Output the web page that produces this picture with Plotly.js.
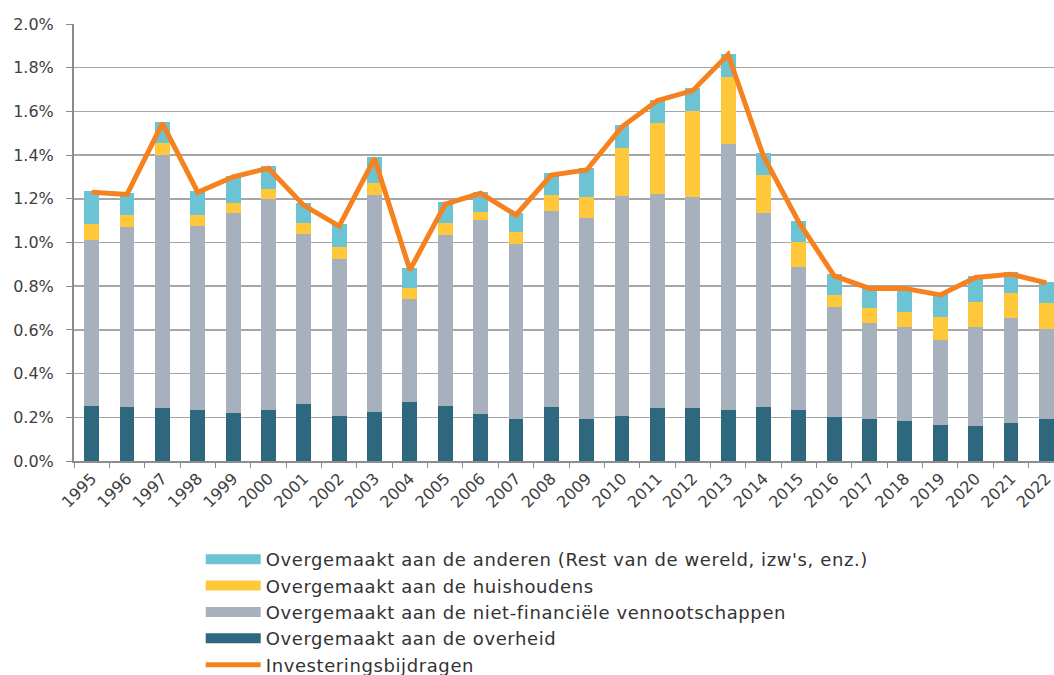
<!DOCTYPE html>
<html><head><meta charset="utf-8">
<script src="https://cdn.plot.ly/plotly-3.0.1.min.js"></script>
<style>html,body{margin:0;padding:0;overflow:hidden;background:#fff}
.legendtext{letter-spacing:0.6px}</style>
</head><body><div id="chart"></div>
<script>
const years = ['1995','1996','1997','1998','1999','2000','2001','2002','2003','2004','2005','2006','2007','2008','2009','2010','2011','2012','2013','2014','2015','2016','2017','2018','2019','2020','2021','2022'];
const overheid = [0.250,0.247,0.243,0.235,0.221,0.232,0.262,0.207,0.226,0.271,0.253,0.215,0.192,0.247,0.192,0.207,0.243,0.243,0.233,0.246,0.233,0.201,0.192,0.184,0.165,0.162,0.172,0.192];
const nietFin = [0.760,0.825,1.157,0.842,0.912,0.968,0.777,0.716,0.993,0.470,0.781,0.888,0.801,0.899,0.918,1.007,0.980,0.964,1.216,0.889,0.656,0.505,0.438,0.428,0.389,0.453,0.481,0.411];
const huishoudens = [0.075,0.052,0.057,0.050,0.046,0.043,0.050,0.058,0.055,0.049,0.054,0.037,0.055,0.071,0.100,0.220,0.322,0.393,0.307,0.175,0.115,0.054,0.069,0.071,0.104,0.114,0.114,0.119];
const anderen = [0.152,0.101,0.096,0.110,0.125,0.107,0.090,0.104,0.116,0.095,0.096,0.090,0.085,0.100,0.130,0.102,0.107,0.107,0.107,0.098,0.094,0.094,0.091,0.107,0.105,0.118,0.096,0.099];
const investeringsbijdragen = [1.230,1.220,1.545,1.230,1.300,1.340,1.170,1.075,1.385,0.874,1.176,1.225,1.126,1.309,1.332,1.530,1.650,1.695,1.860,1.395,1.093,0.847,0.790,0.790,0.760,0.840,0.855,0.815];

const seriesNames = ["Overgemaakt aan de anderen (Rest van de wereld, izw's, enz.)", 'Overgemaakt aan de huishoudens', 'Overgemaakt aan de niet-financiële vennootschappen', 'Overgemaakt aan de overheid', 'Investeringsbijdragen'];
const colors = {anderen:'#6cc3d3', huis:'#ffc73a', niet:'#a7b1be', overheid:'#2e687e', line:'#f5821f'};

const font = "'DejaVu Sans', sans-serif";
function bar(y, name, color, grp) {
  return {type:'bar', x:years, y:y, name:name, marker:{color:color}, showlegend:false, legendgroup:grp};
}
function proxy(name, color, grp, rank) {
  return {type:'scatter', mode:'lines', x:[null], y:[null], name:name, legendgroup:grp, legendrank:rank,
          line:{color:color, width:14}, hoverinfo:'skip'};
}
const traces = [
  bar(overheid, seriesNames[3], colors.overheid, 'g4'),
  bar(nietFin, seriesNames[2], colors.niet, 'g3'),
  bar(huishoudens, seriesNames[1], colors.huis, 'g2'),
  bar(anderen, seriesNames[0], colors.anderen, 'g1'),
  {type:'scatter', mode:'lines', x:years, y:investeringsbijdragen, name:seriesNames[4], line:{color:colors.line, width:5}, legendrank:5},
  proxy(seriesNames[0], colors.anderen, 'g1', 1),
  proxy(seriesNames[1], colors.huis, 'g2', 2),
  proxy(seriesNames[2], colors.niet, 'g3', 3),
  proxy(seriesNames[3], colors.overheid, 'g4', 4)
];
const layout = {
  width:1068, height:700,
  margin:{l:74, r:4, t:24, b:239},
  barmode:'stack', bargap:0.58,
  paper_bgcolor:'#fff', plot_bgcolor:'#fff',
  font:{family:font, color:'#404040', size:16},
  showlegend:true,
  legend:{x:0.128, xanchor:'left', y:-0.183, yanchor:'top', traceorder:'normal',
          font:{size:18, color:'#333'}, itemwidth:55, tracegroupgap:0, bgcolor:'rgba(0,0,0,0)'},
  xaxis:{type:'category', tickangle:-45, tickson:'boundaries', ticks:'outside', ticklen:5, tickcolor:'#8c8c8c',
         showline:true, linecolor:'#8c8c8c', linewidth:2, showgrid:false, tickfont:{size:16, color:'#404040'}},
  yaxis:{range:[0,2.0], dtick:0.2, tickformat:'.1f', ticksuffix:'%', ticks:'outside', ticklen:6, tickcolor:'#8c8c8c',
         ticklabelstandoff:9,
         showline:true, linecolor:'#8c8c8c', linewidth:2, showgrid:true, gridcolor:'#a6a6a6', gridwidth:1.5,
         zeroline:false, tickfont:{size:16, color:'#404040'}}
};
Plotly.newPlot('chart', traces, layout, {displayModeBar:false, staticPlot:true});
</script></body></html>
